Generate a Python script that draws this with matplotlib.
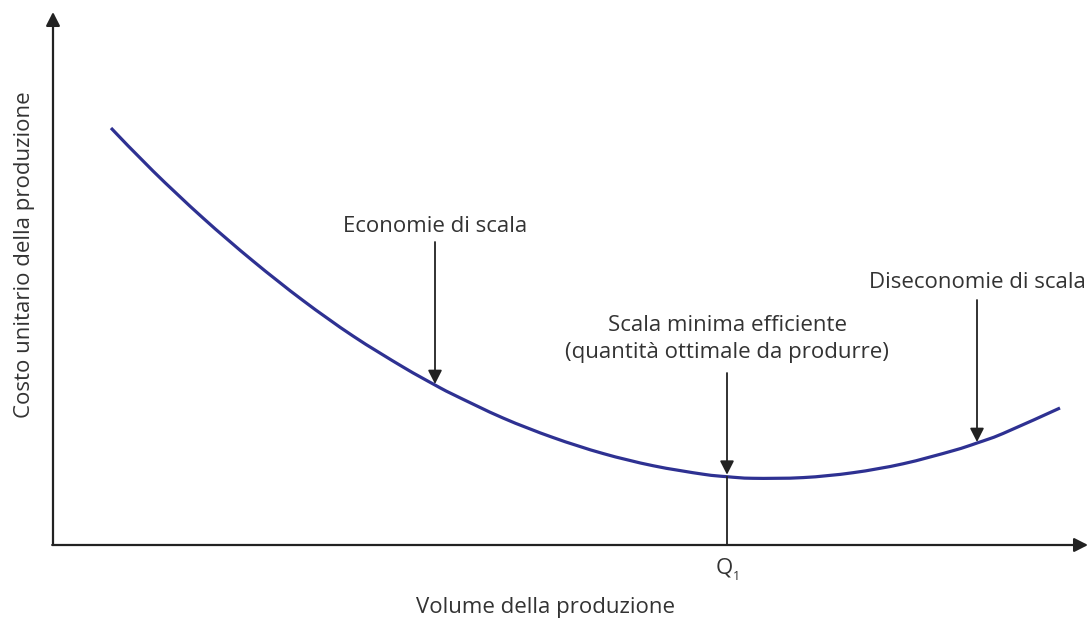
import matplotlib
matplotlib.use("Agg")
import matplotlib.pyplot as plt
from matplotlib.path import Path
from matplotlib.patches import PathPatch

# ---- data (arbitrary units: volume vs unit cost) ----
volume = [5.8, 10, 15, 20, 25, 30, 35, 38.2, 40, 45, 50, 55, 60, 65, 67.4,
          70, 75, 80, 85, 90, 92.4, 95, 100.7]
cost = [41.7, 37.4, 32.7, 28.4, 24.45, 20.9, 17.8, 16.0, 15.06, 12.7, 10.75,
        9.15, 7.93, 7.08, 6.83, 6.67, 6.74, 7.23, 8.12, 9.43, 10.2, 11.15, 13.7]

q1 = 67.4
economie_x, economie_cost = 38.2, 16.1
diseconomie_x, diseconomie_cost = 92.4, 10.3
q1_cost = 6.83

xlabel = "Volume della produzione"
ylabel = "Costo unitario della produzione"
lbl_economie = "Economie di scala"
lbl_dis = "Diseconomie di scala"
lbl_scala = "Scala minima efficiente\n(quantità ottimale da produrre)"

plt.rcParams['font.family'] = ['Open Sans', 'DejaVu Sans']
TXT = '#333333'
AX = '#222222'
CURVE = '#2e3192'
FS = 16

fig = plt.figure(figsize=(10.9, 6.22), dpi=100)
ax = fig.add_axes([0, 0, 1, 1])
ax.set_xlim(-5.3, 103.7)
ax.set_ylim(-7.7, 54.5)
ax.axis('off')

head = '-|>,head_length=0.55,head_width=0.28'
# axes
ax.annotate('', xy=(0, 53.3), xytext=(0, 0),
            arrowprops=dict(arrowstyle=head, color=AX, lw=1.6,
                            mutation_scale=15, shrinkA=0, shrinkB=0))
ax.annotate('', xy=(103.5, 0), xytext=(-0.08, 0),
            arrowprops=dict(arrowstyle=head, color=AX, lw=1.6,
                            mutation_scale=15, shrinkA=0, shrinkB=0))

# curve: smooth path through the data points (Catmull-Rom rendered as Bezier)
pts = list(zip(volume, cost))
verts = [pts[0]]
codes = [Path.MOVETO]
n = len(pts)
for i in range(n - 1):
    p0 = pts[i - 1] if i > 0 else pts[i]
    p1 = pts[i]
    p2 = pts[i + 1]
    p3 = pts[i + 2] if i + 2 < n else pts[i + 1]
    c1 = (p1[0] + (p2[0] - p0[0]) / 6, p1[1] + (p2[1] - p0[1]) / 6)
    c2 = (p2[0] - (p3[0] - p1[0]) / 6, p2[1] - (p3[1] - p1[1]) / 6)
    verts += [c1, c2, p2]
    codes += [Path.CURVE4] * 3
ax.add_patch(PathPatch(Path(verts, codes), facecolor='none', edgecolor=CURVE,
                       lw=2.3, capstyle='butt', transform=ax.transData))

# annotation arrows
def down_arrow(x, y0, y1):
    ax.annotate('', xy=(x, y1), xytext=(x, y0),
                arrowprops=dict(arrowstyle=head, color=AX, lw=1.3,
                                mutation_scale=15, shrinkA=0, shrinkB=0))

down_arrow(economie_x, 30.3, economie_cost)
down_arrow(diseconomie_x, 24.5, diseconomie_cost)
down_arrow(q1, 17.2, q1_cost + 0.2)
ax.plot([q1, q1], [q1_cost, 0], color=AX, lw=1.3)

# texts
ax.text(economie_x, 31.8, lbl_economie, ha='center', va='center',
        fontsize=FS, color=TXT)
ax.text(diseconomie_x, 26.2, lbl_dis, ha='center', va='center',
        fontsize=FS, color=TXT)
ax.text(q1, 20.6, lbl_scala, ha='center', va='center',
        fontsize=FS, color=TXT, linespacing=1.35)
ax.text(q1 - 0.3, -2.3, 'Q', ha='center', va='center', fontsize=FS, color=TXT)
ax.text(q1 + 0.9, -3.2, '1', ha='center', va='center', fontsize=FS * 0.55,
        color=TXT)
ax.text(49.3, -6.3, xlabel, ha='center', va='center', fontsize=FS, color=TXT)
ax.text(-2.8, 29.0, ylabel, ha='center', va='center', rotation=90,
        fontsize=FS, color=TXT)

fig.savefig('out.png', dpi=100)
